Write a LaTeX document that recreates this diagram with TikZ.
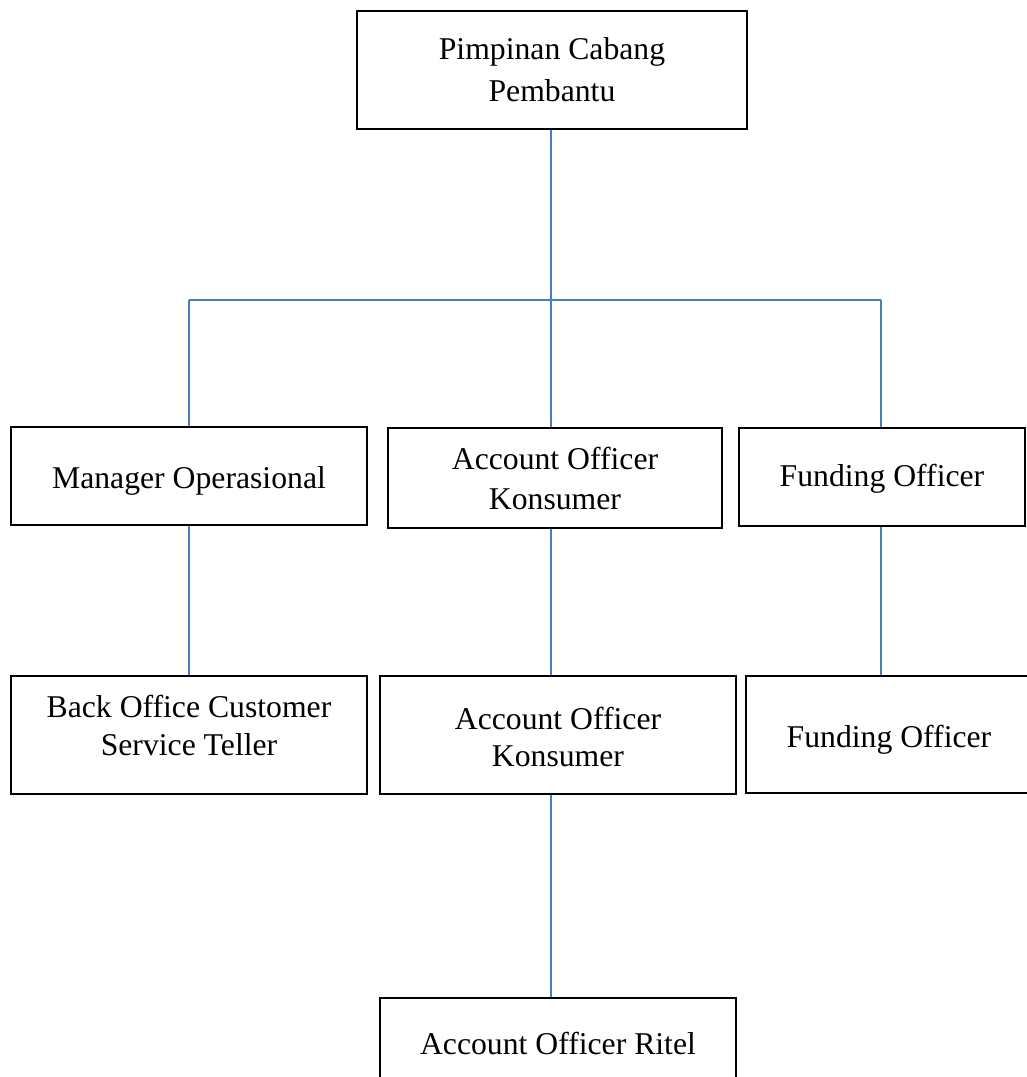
\documentclass[tikz,border=0pt]{standalone}
\usepackage{fontspec}
\setmainfont{Liberation Serif}
\definecolor{linkblue}{HTML}{4A7EBB}
\begin{document}
\begin{tikzpicture}[x=0.5pt,y=-0.5pt,
  box/.style={draw=black,line width=1pt,rectangle,inner sep=0pt,align=center,
    font=\fontsize{15.85}{19.5}\selectfont},
  txt/.style={inner sep=0pt,align=center,font=\fontsize{15.85}{19}\selectfont},
  link/.style={draw=linkblue,line width=0.8pt}]
\clip (0,0) rectangle (1027,1077);
\useasboundingbox (0,0) rectangle (1027,1077);
% boxes
\node[box,minimum width=195pt,minimum height=59pt,font=\fontsize{15.85}{21}\selectfont] (top) at (552,70) {Pimpinan Cabang\\Pembantu};
\node[box,minimum width=178pt,minimum height=49pt] (mo) at (189,476) {};
\node[txt] (motxt) at (189,481) {Manager Operasional};
\node[box,minimum width=167pt,minimum height=50pt,font=\fontsize{15.85}{20}\selectfont] (aok1) at (555,478) {Account Officer\\Konsumer};
\node[box,minimum width=143pt,minimum height=49pt] (fo1) at (882,477) {};
\node[txt] (fo1txt) at (882,479) {Funding Officer};
\node[box,minimum width=178pt,minimum height=59pt] (bo) at (189,735) {};
\node[txt] (botxt) at (189,725) {Back Office Customer\\Service Teller};
\node[box,minimum width=178pt,minimum height=59pt,font=\fontsize{15.85}{18.5}\selectfont] (aok2) at (558,735) {};
\node[txt,font=\fontsize{15.85}{18.5}\selectfont] (aok2txt) at (558,737) {Account Officer\\Konsumer};
\node[box,minimum width=143pt,minimum height=58.5pt] (fo2) at (889,734.5) {};
\node[txt] (fo2txt) at (889,740) {Funding Officer};
\node[box,minimum width=178pt,minimum height=59pt] (ritel) at (558,1057) {};
\node[txt] (riteltxt) at (558,1043) {Account Officer Ritel};
% junctions
\coordinate (j) at (551,300);
\coordinate (jl) at (189,300);
\coordinate (jr) at (881,300);
% connectors
\draw[link] (top.south -| j) -- (j);
\draw[link] (jl) -- (jr);
\draw[link] (jl) -- (mo.north -| jl);
\draw[link] (j) -- (aok1.north -| j);
\draw[link] (jr) -- (fo1.north -| jr);
\draw[link] (mo.south -| jl) -- (bo.north -| jl);
\draw[link] (aok1.south -| j) -- (aok2.north -| j);
\draw[link] (fo1.south -| jr) -- (fo2.north -| jr);
\draw[link] (aok2.south -| j) -- (ritel.north -| j);
\end{tikzpicture}
\end{document}
